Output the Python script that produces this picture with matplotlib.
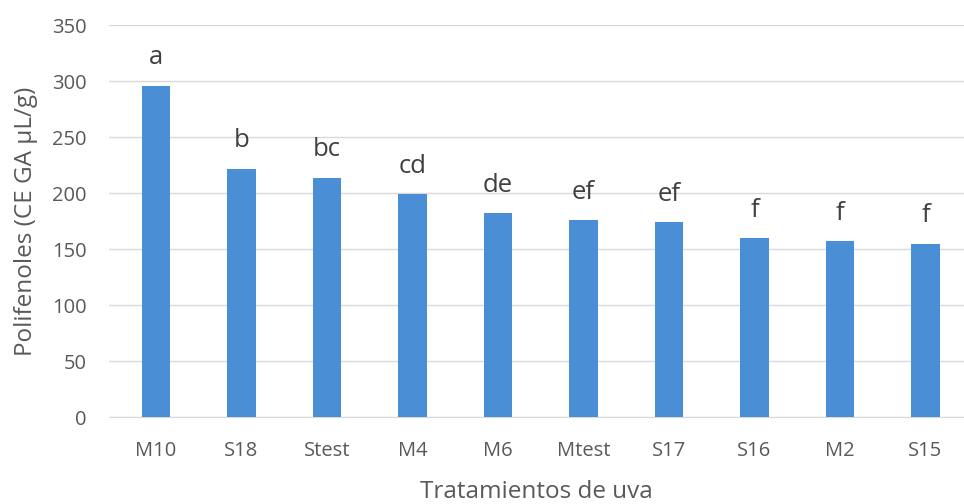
import matplotlib.pyplot as plt

tratamientos = ["M10", "S18", "Stest", "M4", "M6", "Mtest", "S17", "S16", "M2", "S15"]
polifenoles = [296, 222, 214, 199, 182, 176, 174, 160, 157, 155]
letras = ["a", "b", "bc", "cd", "de", "ef", "ef", "f", "f", "f"]

plt.rcParams['font.family'] = ['Open Sans', 'DejaVu Sans']

fig = plt.figure(figsize=(9.64, 5.04), dpi=100)
ax = fig.add_axes([0.113, 0.172, 0.887, 0.778])

x = range(len(tratamientos))
ax.bar(x, polifenoles, width=0.33, color="#4a8fd6", zorder=3)

for xi, v, l in zip(x, polifenoles, letras):
    ax.annotate(l, (xi, v), xytext=(0, 11), textcoords="offset points",
                ha="center", va="bottom", fontsize=18.5, color="#404040")

ax.set_xlim(-0.55, len(tratamientos) - 0.55)
ax.set_ylim(0, 350)
ax.set_yticks(range(0, 351, 50))
ax.set_xticks(list(x))
ax.set_xticklabels(tratamientos)
ax.grid(axis="y", color="#d9d9d9", linewidth=1, zorder=0)
for s in ["top", "right", "left"]:
    ax.spines[s].set_visible(False)
ax.spines["bottom"].set_color("#d9d9d9")
ax.tick_params(axis="both", length=0, colors="#595959", labelsize=14.5)
ax.tick_params(axis="x", pad=17)
ax.tick_params(axis="y", pad=16)

ax.set_xlabel("Tratamientos de uva", fontsize=17.5, color="#595959", labelpad=14)
ax.set_ylabel("Polifenoles (CE GA µL/g)", fontsize=17.5, color="#595959")
ax.yaxis.set_label_coords(-0.083, 0.5)

fig.savefig("out.png", dpi=100)
